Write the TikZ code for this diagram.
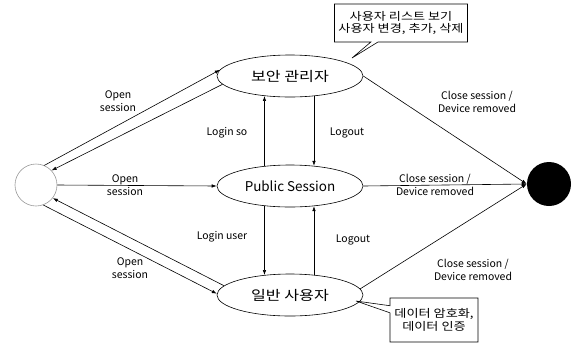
\documentclass[tikz,border=0pt]{standalone}
\usepackage{fontspec}
\setmainfont{Noto Sans CJK KR}
\newfontfamily\kr[FakeStretch=1.2]{Noto Sans CJK KR}
\usetikzlibrary{arrows.meta, shapes.geometric, shapes.callouts}

\begin{document}
\begin{tikzpicture}[x=1bp, y=-1bp, line width=0.6bp,
    >={Latex[length=5bp, width=3.5bp]},
    state/.style={draw, ellipse, minimum width=146bp, minimum height=42bp, inner sep=0pt, font=\fontsize{13.5}{16}\selectfont},
    lbl/.style={align=center, inner sep=0pt, font=\fontsize{10.5}{13}\selectfont},
    note/.style={draw, rectangle callout, align=center, inner sep=2pt, font=\kr\fontsize{11}{12.5}\selectfont}]

    \useasboundingbox (0,0) rectangle (577,343);

    % Nodes
    \node[draw=gray!80, circle, minimum size=42bp, inner sep=0pt] (init) at (36,185) {};
    \node[fill=black, circle, minimum size=44bp, inner sep=0pt] (final) at (549,184) {};

    \node[state] (admin) at (290,76) {\kr 보안 관리자};
    \node[state] (pub) at (290,186) {Public Session};
    \node[state] (user) at (290,295) {\kr 일반 사용자};

    \node[note, minimum width=133bp, minimum height=38bp, callout absolute pointer={(352,58)}] (noteadmin) at (401,23) {사용자 리스트 보기\\사용자 변경, 추가, 삭제};
    \node[note, minimum width=88bp, minimum height=44bp, callout absolute pointer={(356,301)}] (noteuser) at (434,320) {데이터 암호화,\\데이터 인증};

    % Labels
    \node[lbl] (open1) at (118,101) {Open\\session};
    \node[lbl] (open2) at (125,185) {Open\\session};
    \node[lbl] (open3) at (130,268) {Open\\session};
    \node[lbl] (loginso) at (227,133) {Login so};
    \node[lbl] (logout1) at (347,133) {Logout};
    \node[lbl] (loginuser) at (222,237) {Login user};
    \node[lbl] (logout2) at (353,240) {Logout};
    \node[lbl] (close1) at (477,102) {Close session /\\Device removed};
    \node[lbl] (close2) at (435,185) {Close session /\\Device removed};
    \node[lbl] (close3) at (473,270) {Close session /\\Device removed};

    % Arrows
    \draw[->] (init.67) -- (admin.175);
    \draw[->] (admin.187) -- (init.43);
    \draw[->] (init.east) -- (pub.west);
    \draw[->] (user.172) -- (init.322);
    \draw[->] (init.290) -- (user.179);

    \draw[->] (pub.142) -- (admin.218);
    \draw[->] (admin.320) -- (pub.40);
    \draw[->] (pub.218) -- (user.142);
    \draw[->] (user.40) -- (pub.320);

    \draw[->] (admin.east) -- (final.west);
    \draw[->] (pub.east) -- (final.west);
    \draw[->] (user.5) -- (final.west);

\end{tikzpicture}
\end{document}
